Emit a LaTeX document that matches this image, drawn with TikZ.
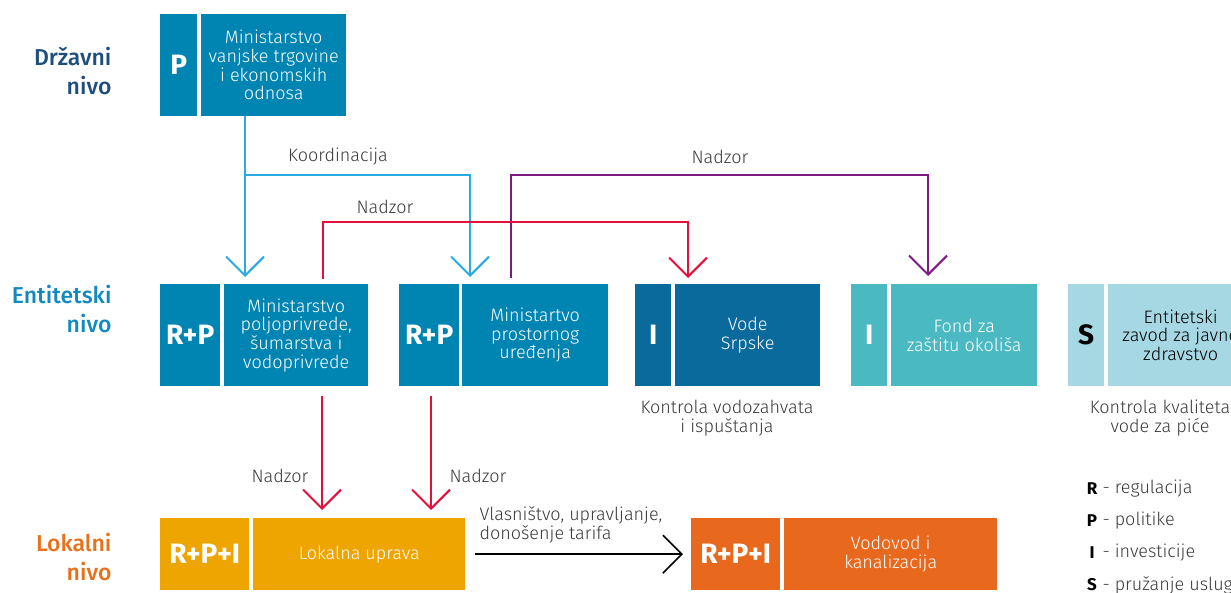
\documentclass[tikz,border=0pt]{standalone}
\usepackage{fontspec}
\setmainfont{Fira Sans Light}[BoldFont={Fira Sans Bold}]
\newfontfamily\headfont{Fira Sans Medium}
\usetikzlibrary{arrows.meta}
\definecolor{drzblue}{HTML}{1F4E7C}
\definecolor{entblue}{HTML}{1389BF}
\definecolor{lokorange}{HTML}{E9711C}
\definecolor{minblue}{HTML}{0085B2}
\definecolor{vodeblue}{HTML}{0B6A9C}
\definecolor{fondteal}{HTML}{4BB9C2}
\definecolor{zavodblue}{HTML}{A6D8E3}
\definecolor{lokgold}{HTML}{EFA500}
\definecolor{vodovodorange}{HTML}{E8691E}
\definecolor{koordblue}{HTML}{29ABE2}
\definecolor{nadzorred}{HTML}{E2103A}
\definecolor{nadzorpurple}{HTML}{7B1C83}
\definecolor{lblgray}{HTML}{3A3A3A}
\tikzset{
  cell/.style={anchor=north west,inner sep=0pt,text=white,align=center,
    font=\fontsize{18}{18.7}\selectfont},
  lettercell/.style={cell,font=\bfseries\fontsize{28}{30}\selectfont},
  levellbl/.style={anchor=east,align=right,font=\headfont\fontsize{23}{29}\selectfont},
  lbl/.style={text=lblgray,align=center,font=\fontsize{18}{18.7}\selectfont},
  conn/.style={line width=2pt,-{Straight Barb[length=19pt,width=38pt]}},
}
\begin{document}
\begin{tikzpicture}[x=1pt,y=-1pt]
\useasboundingbox (0,0) rectangle (1231,593);
\clip (0,0) rectangle (1231,593);
\pgfmathsetmacro{\yd}{14}
\pgfmathsetmacro{\ye}{284}
\pgfmathsetmacro{\yl}{518}
\pgfmathsetmacro{\he}{102}
\pgfmathsetmacro{\hl}{72}
  \node[levellbl,text=drzblue] (drz) at (115,71) {Državni\\nivo};
  \node[levellbl,text=entblue] (ent) at (115,309) {Entitetski\\nivo};
  \node[levellbl,text=lokorange] (lok) at (115,557) {Lokalni\\nivo};

  \node[lettercell,fill=minblue,minimum width=37pt,minimum height=\he pt] (vtoL) at (160,\yd) {P};
  \node[cell,fill=minblue,minimum width=145pt,minimum height=\he pt] (vtoT) at (201,\yd) {Ministarstvo\\vanjske trgovine\\i ekonomskih\\odnosa};

  \node[lettercell,fill=minblue,minimum width=60pt,minimum height=\he pt] (mpsL) at (160,\ye) {R+P};
  \node[cell,fill=minblue,minimum width=144pt,minimum height=\he pt] (mpsT) at (224,\ye) {Ministarstvo\\poljoprivrede,\\šumarstva i\\vodoprivrede};
  \node[lettercell,fill=minblue,minimum width=60pt,minimum height=\he pt] (mpuL) at (399,\ye) {R+P};
  \node[cell,fill=minblue,minimum width=146pt,minimum height=\he pt] (mpuT) at (462,\ye) {Ministartvo\\prostornog\\uređenja};
  \node[lettercell,fill=vodeblue,minimum width=36pt,minimum height=\he pt] (vodeL) at (635,\ye) {I};
  \node[cell,fill=vodeblue,minimum width=145pt,minimum height=\he pt] (vodeT) at (675,\ye) {Vode\\Srpske};
  \node[lettercell,fill=fondteal,minimum width=36pt,minimum height=\he pt] (fondL) at (851,\ye) {I};
  \node[cell,fill=fondteal,minimum width=146pt,minimum height=\he pt] (fondT) at (891,\ye) {Fond za\\zaštitu okoliša};
  \node[lettercell,fill=zavodblue,text=black,minimum width=36pt,minimum height=\he pt] (zavL) at (1068,\ye) {S};
  \node[cell,fill=zavodblue,text=black,minimum width=145pt,minimum height=\he pt] (zavT) at (1108,\ye) {Entitetski\\zavod za javno\\zdravstvo};

  \node[lettercell,fill=lokgold,minimum width=89pt,minimum height=\hl pt] (lokL) at (160,\yl) {R+P+I};
  \node[cell,fill=lokgold,minimum width=212pt,minimum height=\hl pt] (lokT) at (253,\yl) {Lokalna uprava};
  \node[lettercell,fill=vodovodorange,minimum width=89pt,minimum height=\hl pt] (vikL) at (691,\yl) {R+P+I};
  \node[cell,fill=vodovodorange,minimum width=213pt,minimum height=\hl pt] (vikT) at (784,\yl) {Vodovod i\\kanalizacija};

  \node[lbl] (kontrV) at (727,418) {Kontrola vodozahvata\\i ispuštanja};
  \node[lbl] (kontrZ) at (1160,418) {Kontrola kvaliteta\\vode za piće};

  \draw[conn,koordblue,shorten >=7pt] (245,0 |- vtoT.south) -- (245,0 |- mpsT.north);
  \coordinate (koordJ) at (245,175);
  \draw[conn,koordblue,shorten >=7pt] (koordJ) -- (470,175) -- (470,0 |- mpuT.north);
  \node[lbl] (koordLbl) at (338,157) {Koordinacija};

  \draw[conn,nadzorpurple,shorten <=6pt,shorten >=8pt] (511,0 |- mpuT.north) -- (511,175) -- (928,175) -- (928,0 |- fondT.north);
  \node[lbl] (nadzP) at (720,157) {Nadzor};
  \draw[conn,nadzorred,shorten <=5pt,shorten >=6pt] (323,0 |- mpsT.north) -- (323,222) -- (688,222) -- (688,0 |- vodeT.north);
  \node[lbl] (nadzR) at (385,207) {Nadzor};

  \draw[conn,nadzorred,shorten <=10pt,shorten >=8pt] (322,0 |- mpsT.south) -- (322,0 |- lokT.north);
  \draw[conn,nadzorred,shorten <=10pt,shorten >=8pt] (431,0 |- mpuL.south) -- (431,0 |- lokT.north);
  \node[lbl] (nadzL1) at (280,476) {Nadzor};
  \node[lbl] (nadzL2) at (478,476) {Nadzor};

  \draw[conn,black,line width=1.6pt,shorten <=10pt,shorten >=8pt] (lokT.east) -- (vikL.west);
  \node[lbl,anchor=west,align=left] (vlasn) at (476,525) {Vlasništvo, upravljanje,\\donošenje tarifa};

  \node[font=\bfseries\fontsize{17}{20}\selectfont] (legR) at (1092,489) {R};
  \node[lbl,anchor=west] (legRt) at (1099,489) {- regulacija};
  \node[font=\bfseries\fontsize{17}{20}\selectfont] (legP) at (1092,521) {P};
  \node[lbl,anchor=west] (legPt) at (1099,521) {- politike};
  \node[font=\bfseries\fontsize{17}{20}\selectfont] (legI) at (1092,553) {I};
  \node[lbl,anchor=west] (legIt) at (1099,553) {- investicije};
  \node[font=\bfseries\fontsize{17}{20}\selectfont] (legS) at (1092,585) {S};
  \node[lbl,anchor=west] (legSt) at (1099,585) {- pružanje usluga};
\end{tikzpicture}
\end{document}
